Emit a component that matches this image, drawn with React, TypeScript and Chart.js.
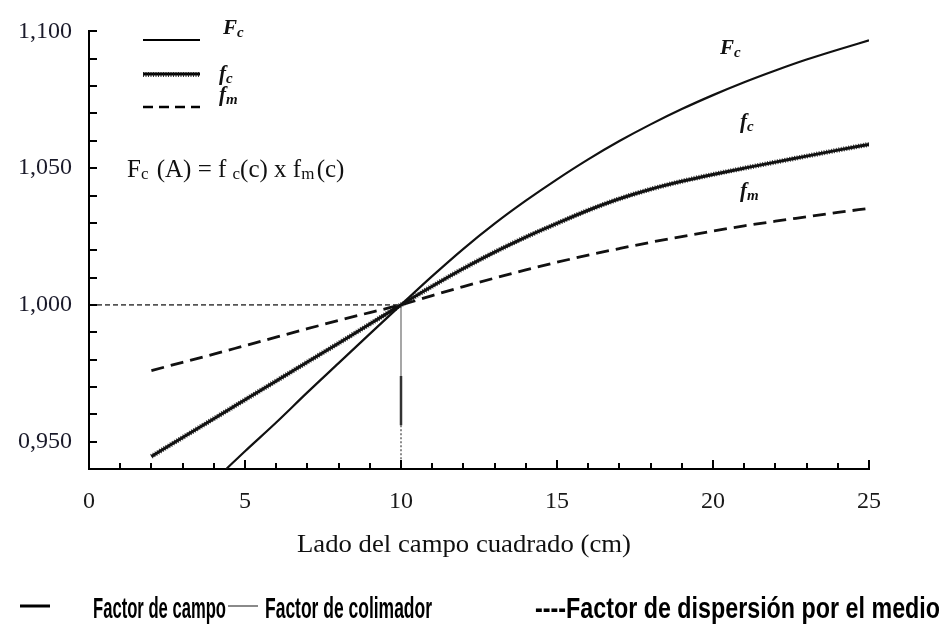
import React, { useEffect, useRef } from 'react';
import { Chart, registerables } from 'chart.js';

Chart.register(...registerables);

// Field factor Fc(A) against side of the square field (cm)
const fieldSizes = [4.4, 5, 6, 7, 8, 9, 10, 11, 12, 13, 14, 15, 16, 17, 18, 19, 20, 21, 22, 23, 24, 25];
const fieldFactor = [0.94, 0.9465, 0.957, 0.968, 0.9787, 0.9894, 1.0, 1.0105, 1.0205, 1.0297, 1.0381, 1.0459, 1.0532, 1.0599, 1.066, 1.0716, 1.0767, 1.0814, 1.0857, 1.0897, 1.0933, 1.0967];

// Collimator factor fc and phantom scatter factor fm
const sideSizes = [2, 3, 4, 5, 6, 7, 8, 9, 10, 11, 12, 13, 14, 15, 16, 17, 18, 19, 20, 21, 22, 23, 24, 25];
const collimatorFactor = [0.9446, 0.9515, 0.9584, 0.9653, 0.9722, 0.9791, 0.986, 0.993, 1.0, 1.0068, 1.0133, 1.0193, 1.0248, 1.0298, 1.0346, 1.0388, 1.0423, 1.0452, 1.0477, 1.05, 1.0522, 1.0544, 1.0566, 1.0587];
const scatterFactor = [0.976, 0.979, 0.982, 0.9851, 0.9882, 0.9913, 0.9943, 0.9972, 1.0, 1.0034, 1.0067, 1.0098, 1.0128, 1.0156, 1.0182, 1.0206, 1.0229, 1.025, 1.027, 1.0289, 1.0306, 1.0322, 1.0338, 1.0353];

// Reference field (10 cm x 10 cm, factor 1.000) and the breaks of its vertical guide
const refSize = 10;
const refFactor = 1.0;
const guideBreaks = [0.974, 0.956];

// Axes
const xRange = [0, 25];
const yRange = [0.94, 1.1];
const xTickLabels = [0, 5, 10, 15, 20, 25];
const yTickLabels = [0.95, 1.0, 1.05, 1.1];

const legendItems = ['Factor de campo', 'Factor de colimador', '----Factor de dispersión por el medio'];
const axisTitle = 'Lado del campo cuadrado (cm)';

const SERIF = "'Liberation Serif', 'Times New Roman', serif";
const SANS = "'Liberation Sans', Arial, sans-serif";

function pts(xs: number[], ys: number[]) {
  return xs.map((x, i) => ({ x, y: ys[i] }));
}

// draws "main" followed by a lowered, smaller "sub"
function drawSub(ctx: CanvasRenderingContext2D, x: number, y: number, main: string, sub: string, mainFont: string, subFont: string, drop: number) {
  ctx.font = mainFont;
  ctx.fillText(main, x, y);
  const w = ctx.measureText(main).width;
  ctx.font = subFont;
  ctx.fillText(sub, x + w, y + drop);
  return x + w + ctx.measureText(sub).width;
}

// text squeezed or stretched horizontally to a given width
function fitText(ctx: CanvasRenderingContext2D, text: string, x: number, y: number, width: number, font: string) {
  ctx.save();
  ctx.font = font;
  const w = ctx.measureText(text).width;
  ctx.translate(x, y);
  ctx.scale(width / w, 1);
  ctx.fillText(text, 0, 0);
  ctx.restore();
}

const decorPlugin = {
  id: 'decor',
  afterDraw(chart: any) {
    const ctx: CanvasRenderingContext2D = chart.ctx;
    const xs = chart.scales.x;
    const ys = chart.scales.y;
    const area = chart.chartArea;
    ctx.save();

    // inward tick marks
    ctx.strokeStyle = '#000';
    ctx.lineWidth = 2;
    ctx.beginPath();
    for (let v = xRange[0] + 1; v <= xRange[1]; v++) {
      const px = Math.round(xs.getPixelForValue(v));
      const len = v % 5 === 0 ? 9 : 6;
      ctx.moveTo(px, area.bottom);
      ctx.lineTo(px, area.bottom - len);
    }
    for (let k = 95; k <= 110; k++) {
      const py = Math.round(ys.getPixelForValue(k / 100));
      ctx.moveTo(area.left, py);
      ctx.lineTo(area.left + 8, py);
    }
    ctx.stroke();

    // key in the upper-left corner
    ctx.lineWidth = 2;
    ctx.setLineDash([]);
    ctx.beginPath();
    ctx.moveTo(143, 40);
    ctx.lineTo(200, 40);
    ctx.stroke();
    ctx.lineWidth = 3;
    ctx.beginPath();
    ctx.moveTo(143, 74);
    ctx.lineTo(200, 74);
    ctx.stroke();
    ctx.lineWidth = 5;
    ctx.setLineDash([1, 1.5]);
    ctx.strokeStyle = 'rgba(20,20,20,0.85)';
    ctx.beginPath();
    ctx.moveTo(143, 74.5);
    ctx.lineTo(200, 74.5);
    ctx.stroke();
    ctx.strokeStyle = '#000';
    ctx.lineWidth = 2.5;
    ctx.setLineDash([10, 6]);
    ctx.beginPath();
    ctx.moveTo(143, 107);
    ctx.lineTo(200, 107);
    ctx.stroke();
    ctx.setLineDash([]);

    ctx.fillStyle = '#111';
    ctx.textBaseline = 'alphabetic';
    ctx.textAlign = 'left';
    const bi = `italic bold 21px ${SERIF}`;
    const biSub = `italic bold 15px ${SERIF}`;
    drawSub(ctx, 223, 34, 'F', 'c', bi, biSub, 3);
    drawSub(ctx, 219, 80, 'f', 'c', bi, biSub, 3);
    drawSub(ctx, 219, 101, 'f', 'm', bi, biSub, 3);

    // curve labels
    drawSub(ctx, 720, 54, 'F', 'c', bi, biSub, 3);
    drawSub(ctx, 740, 128, 'f', 'c', bi, biSub, 3);
    drawSub(ctx, 740, 197, 'f', 'm', bi, biSub, 3);

    // relation between the factors
    const f = `25px ${SERIF}`;
    const fs = `17px ${SERIF}`;
    let cx = 127;
    const by = 177;
    cx = drawSub(ctx, cx, by, 'F', 'c', f, fs, 2);
    cx = drawSub(ctx, cx + 2, by, ' (A) = f ', 'c', f, fs, 2);
    cx = drawSub(ctx, cx, by, '(c) x f', 'm', f, fs, 2);
    ctx.font = f;
    ctx.fillText(' (c)', cx - 4, by);

    // axis title
    fitText(ctx, axisTitle, 297, 552, 334, `26px ${SERIF}`);

    // series key below the chart
    ctx.strokeStyle = '#000';
    ctx.lineWidth = 3;
    ctx.beginPath();
    ctx.moveTo(20, 606);
    ctx.lineTo(50, 606);
    ctx.stroke();
    ctx.strokeStyle = '#8a8a8a';
    ctx.lineWidth = 2;
    ctx.beginPath();
    ctx.moveTo(228, 606);
    ctx.lineTo(258, 606);
    ctx.stroke();
    ctx.fillStyle = '#000';
    const nf = `bold 29px ${SANS}`;
    fitText(ctx, legendItems[0], 93, 618, 133, nf);
    fitText(ctx, legendItems[1], 265, 618, 167, nf);
    fitText(ctx, legendItems[2], 535, 618, 405, nf);

    ctx.restore();
  },
};

export default function App() {
  const ref = useRef<HTMLCanvasElement | null>(null);

  useEffect(() => {
    if (!ref.current) return;
    const tickFont = { family: SERIF, size: 24 };
    const chart = new Chart(ref.current, {
      type: 'line',
      data: {
        datasets: [
          {
            label: 'Fc',
            data: pts(fieldSizes, fieldFactor),
            borderColor: '#111',
            borderWidth: 2.2,
            pointRadius: 0,
            cubicInterpolationMode: 'monotone',
          },
          {
            label: 'fc',
            data: pts(sideSizes, collimatorFactor),
            borderColor: '#111',
            borderWidth: 3,
            pointRadius: 0,
            cubicInterpolationMode: 'monotone',
          },
          {
            label: 'fc teeth',
            data: pts(sideSizes, collimatorFactor),
            borderColor: 'rgba(20,20,20,0.85)',
            borderWidth: 5,
            borderDash: [1, 1.5],
            pointRadius: 0,
            cubicInterpolationMode: 'monotone',
          },
          {
            label: 'fm',
            data: pts(sideSizes, scatterFactor),
            borderColor: '#111',
            borderWidth: 2.8,
            borderDash: [13, 7],
            pointRadius: 0,
            cubicInterpolationMode: 'monotone',
          },
          {
            label: 'ref horizontal',
            data: [{ x: xRange[0], y: refFactor }, { x: refSize, y: refFactor }],
            borderColor: '#555',
            borderWidth: 1.6,
            borderDash: [5, 3],
            pointRadius: 0,
          },
          {
            label: 'ref vertical',
            data: [{ x: refSize, y: refFactor }, { x: refSize, y: guideBreaks[0] }],
            borderColor: '#777',
            borderWidth: 1.3,
            pointRadius: 0,
          },
          {
            label: 'ref vertical dark',
            data: [{ x: refSize, y: guideBreaks[0] }, { x: refSize, y: guideBreaks[1] }],
            borderColor: '#333',
            borderWidth: 2.5,
            pointRadius: 0,
          },
          {
            label: 'ref vertical dotted',
            data: [{ x: refSize, y: guideBreaks[1] }, { x: refSize, y: yRange[0] }],
            borderColor: '#666',
            borderWidth: 1.5,
            borderDash: [2, 2],
            pointRadius: 0,
          },
        ],
      },
      options: {
        responsive: false,
        animation: false,
        events: [],
        layout: { padding: { left: 0, top: 26, right: 76, bottom: 0 } },
        plugins: { legend: { display: false }, tooltip: { enabled: false } },
        scales: {
          x: {
            type: 'linear',
            min: xRange[0],
            max: xRange[1],
            afterBuildTicks: (s: any) => {
              s.ticks = xTickLabels.map((v) => ({ value: v }));
            },
            afterFit: (s: any) => {
              s.height = 159;
            },
            grid: { display: true, drawOnChartArea: false, drawTicks: false },
            border: { display: true, color: '#000', width: 2 },
            ticks: {
              font: tickFont,
              color: '#1a1a1a',
              padding: 18,
              maxRotation: 0,
              autoSkip: false,
              callback: (v: any) => String(v),
            },
          },
          y: {
            type: 'linear',
            min: yRange[0],
            max: yRange[1],
            afterBuildTicks: (s: any) => {
              s.ticks = yTickLabels.map((v) => ({ value: v }));
            },
            afterFit: (s: any) => {
              s.width = 89;
            },
            grid: { display: true, drawOnChartArea: false, drawTicks: false },
            border: { display: true, color: '#000', width: 2 },
            ticks: {
              font: tickFont,
              color: '#1a1a2a',
              padding: 17,
              autoSkip: false,
              callback: (v: any) => Number(v).toFixed(3).replace('.', ','),
            },
          },
        },
      },
      plugins: [decorPlugin],
    } as any);
    return () => chart.destroy();
  }, []);

  return (
    <div style={{ position: 'absolute', left: 0, top: 0, width: 945, height: 628, background: '#fff' }}>
      <canvas ref={ref} width={945} height={628} style={{ display: 'block' }} />
    </div>
  );
}
